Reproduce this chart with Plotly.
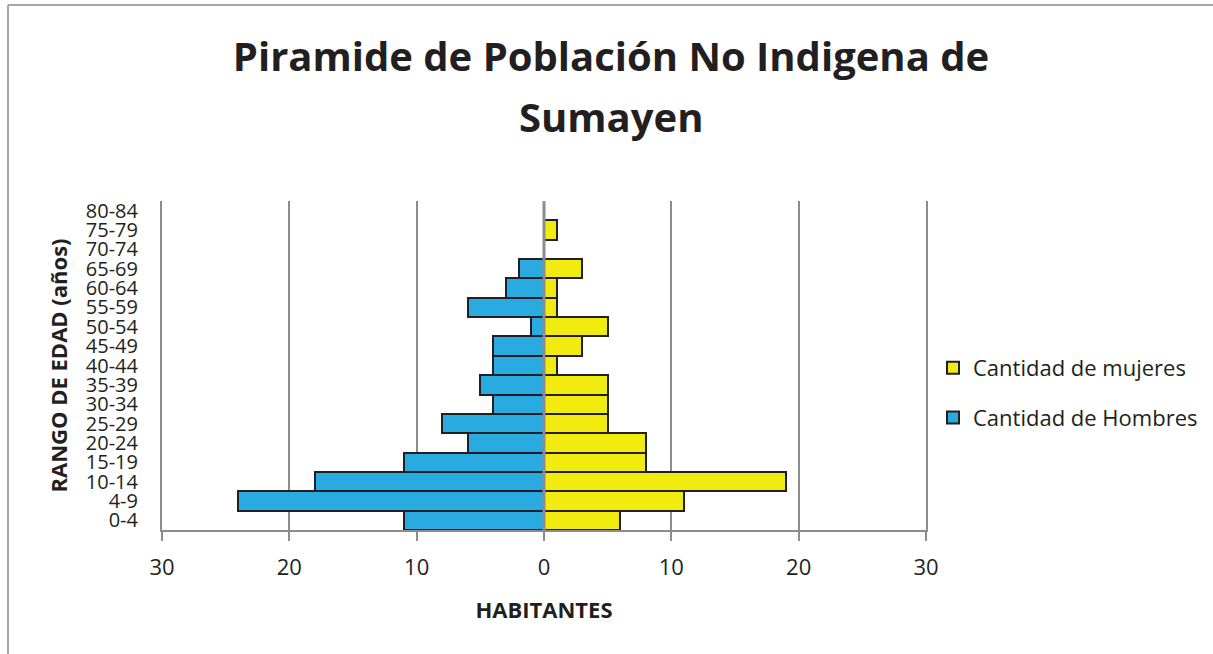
import plotly.graph_objects as go

categories = ["0-4", "4-9", "10-14", "15-19", "20-24", "25-29", "30-34", "35-39",
              "40-44", "45-49", "50-54", "55-59", "60-64", "65-69", "70-74", "75-79", "80-84"]
mujeres = [6, 11, 19, 8, 8, 5, 5, 5, 1, 3, 5, 1, 1, 3, 0, 1, 0]
hombres = [11, 24, 18, 11, 6, 8, 4, 5, 4, 4, 1, 6, 3, 2, 0, 0, 0]
tick_vals = [-30, -20, -10, 0, 10, 20, 30]
tick_text = ["30", "20", "10", "0", "10", "20", "30"]

FONT = "Open Sans"
TXT = "#231f20"
GRID = "#8c8c8c"

fig = go.Figure()
fig.add_trace(go.Bar(
    y=categories, x=[-v for v in hombres], orientation="h",
    name="Cantidad de Hombres", legendgroup="h", legendrank=2,
    marker=dict(color="#29abe2", line=dict(color=TXT, width=2)),
))
fig.add_trace(go.Bar(
    y=categories, x=mujeres, orientation="h",
    name="Cantidad de mujeres", legendgroup="m", legendrank=1,
    marker=dict(color="#f2eb0f", line=dict(color=TXT, width=2)),
))

L, R, T, B = 162, 1213 - 926, 201, 654 - 530
W, H = 1213 - L - R, 654 - T - B

fig.update_layout(
    width=1213, height=654,
    margin=dict(l=L, r=R, t=T, b=B, autoexpand=False),
    paper_bgcolor="white", plot_bgcolor="white",
    barmode="relative", bargap=0,
    font=dict(family=FONT, color=TXT, size=20),
    title=dict(
        text="<b>Piramide de Población No Indigena de</b>",
        x=611 / 1213, xanchor="center",
        y=1 - 57 / 654, yanchor="middle", yref="container",
        font=dict(family=FONT, size=40, color=TXT),
    ),
    annotations=[dict(
        text="<b>Sumayen</b>", xref="paper", yref="paper",
        x=(611 - L) / W, xanchor="center",
        y=(530 - 116) / H, yanchor="middle",
        showarrow=False, font=dict(family=FONT, size=40, color=TXT),
    )],
    xaxis=dict(
        range=[-30, 30], tickvals=tick_vals, ticktext=tick_text,
        showgrid=True, gridcolor=GRID, gridwidth=2,
        zeroline=False, automargin=False,
        showline=True, linecolor=GRID, linewidth=2,
        ticks="outside", ticklen=9, tickcolor=GRID, tickwidth=2,
        ticklabelstandoff=8,
        tickfont=dict(size=22, color=TXT),
        title=dict(text="<b>HABITANTES</b>", font=dict(size=22, color=TXT), standoff=22),
    ),
    yaxis=dict(
        tickmode="array", tickvals=categories, ticktext=categories,
        showgrid=False, zeroline=False, automargin=False,
        showline=True, mirror=True, linecolor=GRID, linewidth=2,
        ticks="", ticklabelstandoff=18,
        tickfont=dict(size=20, color=TXT),
        title=dict(text="<b>RANGO DE EDAD (años)</b>", font=dict(size=22, color=TXT), standoff=12),
    ),
    legend=dict(
        x=(933 - L) / W, xanchor="left",
        y=(530 - 393) / H, yanchor="middle",
        traceorder="grouped", tracegroupgap=18,
        font=dict(size=22, color=TXT),
        bgcolor="rgba(0,0,0,0)",
    ),
    showlegend=True,
)

# zero reference line drawn above bars
fig.add_shape(type="line", xref="x", yref="paper", x0=0, x1=0, y0=0, y1=1,
              line=dict(color=GRID, width=3), layer="above")

# outer chart border (top and left edges)
fig.add_shape(type="line", xref="paper", yref="paper",
              x0=(8 - L) / W, x1=(1213 - L) / W, y0=(530 - 5) / H, y1=(530 - 5) / H,
              line=dict(color="#a6a6a6", width=2), layer="above")
fig.add_shape(type="line", xref="paper", yref="paper",
              x0=(8 - L) / W, x1=(8 - L) / W, y0=(530 - 5) / H, y1=(530 - 660) / H,
              line=dict(color="#a6a6a6", width=2), layer="above")

fig.write_html("out.html", config={"displayModeBar": False},
               post_script="document.body.style.margin='0px';")
